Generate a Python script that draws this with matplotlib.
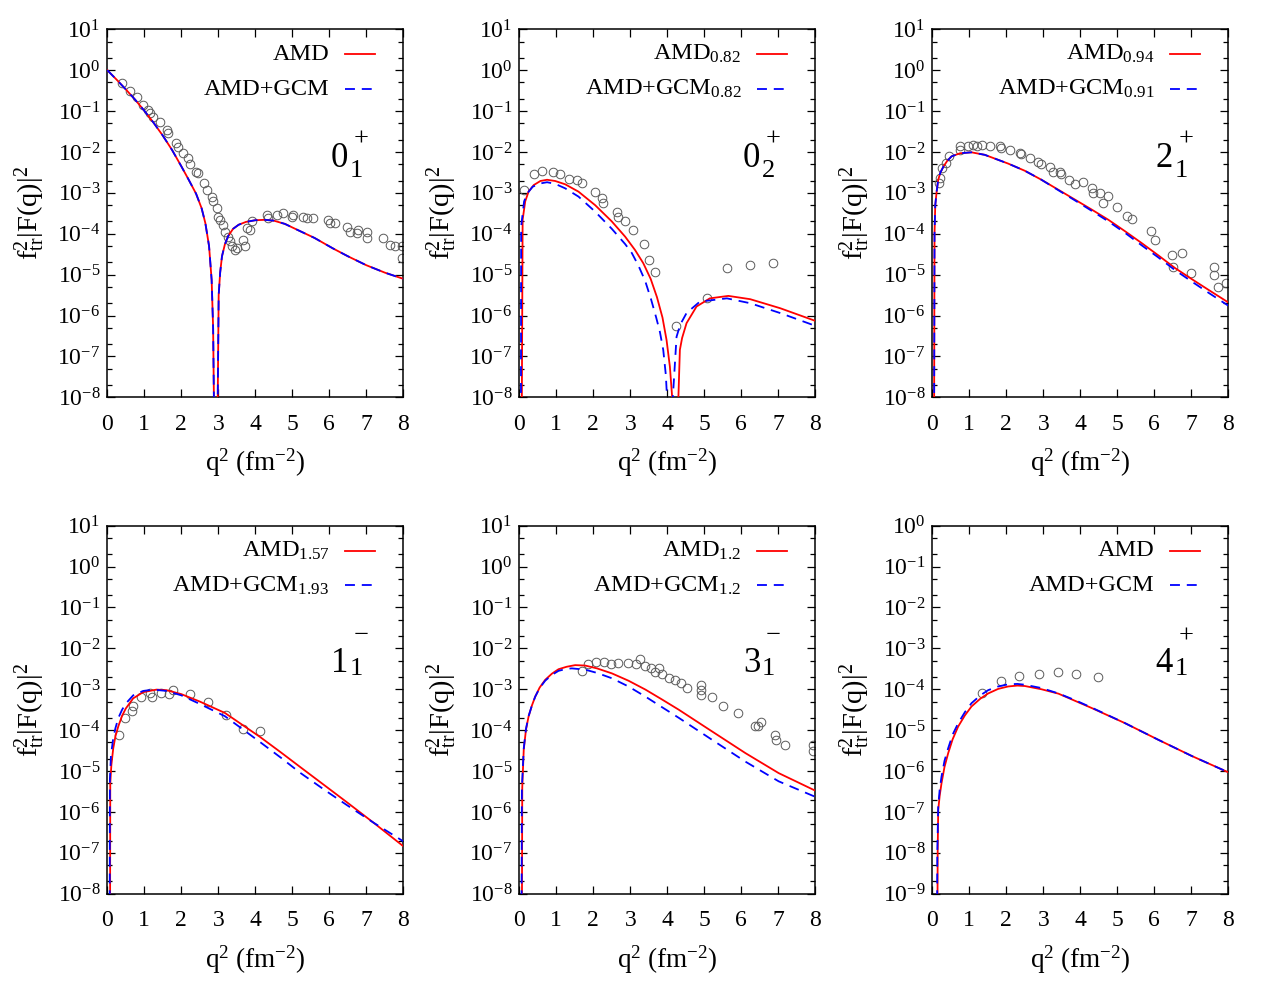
import matplotlib
matplotlib.use('Agg')
import matplotlib.pyplot as plt
from matplotlib.ticker import LogLocator, NullFormatter, LogFormatterSciNotation, FixedLocator

plt.rcParams['font.family'] = 'serif'
plt.rcParams['font.serif'] = ['Liberation Serif', 'DejaVu Serif']
plt.rcParams['mathtext.fontset'] = 'stix'

# ---------------- panel 1 : 0_1^+ ----------------
p1_q_amd = [0.0, 0.25, 0.5, 0.75, 1.0, 1.25, 1.5, 1.75, 2.0, 2.2, 2.4, 2.55, 2.65, 2.75, 2.82, 2.86,
            2.93, 2.98, 3.01, 3.05, 3.1, 3.18, 3.27, 3.4, 3.55, 3.75, 4.0, 4.25, 4.5, 4.8, 5.2, 5.6,
            6.1, 6.5, 7.0, 7.5, 8.0]
p1_amd = [1.0, 0.589, 0.339, 0.191, 0.102, 5.2e-2, 2.51e-2, 1.12e-2, 4.47e-3, 2.09e-3, 9.5e-4, 4.17e-4,
          1.82e-4, 5.0e-5, 7.4e-6, 5.0e-7, 1e-12, 3.16e-9, 3.16e-6, 1.12e-5, 2.82e-5, 5.6e-5, 8.9e-5,
          1.32e-4, 1.66e-4, 1.95e-4, 2.14e-4, 2.19e-4, 2.09e-4, 1.74e-4, 1.17e-4, 7.9e-5, 4.37e-5,
          2.82e-5, 1.70e-5, 1.12e-5, 7.9e-6]
p1_q_gcm = list(p1_q_amd)
p1_gcm = [1.0, 0.589, 0.339, 0.191, 0.102, 5.2e-2, 2.51e-2, 1.12e-2, 4.47e-3, 2.09e-3, 9.5e-4, 4.17e-4,
          1.82e-4, 5.0e-5, 7.4e-6, 5.0e-7, 1e-12, 3.16e-9, 3.16e-6, 1.12e-5, 2.82e-5, 5.6e-5, 8.9e-5,
          1.32e-4, 1.66e-4, 1.95e-4, 2.14e-4, 2.19e-4, 2.09e-4, 1.74e-4, 1.17e-4, 7.9e-5, 4.37e-5,
          2.82e-5, 1.70e-5, 1.12e-5, 7.9e-6]
p1_q_exp = [0.39, 0.61, 0.79, 0.97, 1.11, 1.15, 1.24, 1.42, 1.60, 1.65, 1.87, 1.92, 2.05, 2.19, 2.23,
            2.41, 2.46, 2.60, 2.69, 2.82, 2.87, 2.96, 3.00, 3.05, 3.14, 3.18, 3.27, 3.32, 3.36, 3.45,
            3.50, 3.68, 3.72, 3.77, 3.86, 3.90, 4.31, 4.35, 4.58, 4.76, 4.98, 5.03, 5.30, 5.39, 5.57,
            5.97, 6.02, 6.15, 6.47, 6.56, 6.78, 6.74, 7.01, 7.01, 7.46, 7.64, 7.78, 7.96, 7.96]
p1_exp = [0.479, 0.302, 0.219, 0.141, 0.107, 8.9e-2, 7.2e-2, 5.5e-2, 3.47e-2, 2.88e-2, 1.62e-2, 1.35e-2,
          9.3e-3, 7.1e-3, 5.2e-3, 3.31e-3, 3.02e-3, 1.70e-3, 1.17e-3, 8.1e-4, 6.2e-4, 4.17e-4, 2.63e-4,
          2.19e-4, 1.66e-4, 1.12e-4, 8.5e-5, 6.5e-5, 4.9e-5, 3.98e-5, 4.4e-5, 7.1e-5, 4.9e-5, 1.35e-4,
          1.23e-4, 2.0e-4, 2.88e-4, 2.40e-4, 2.88e-4, 3.16e-4, 2.63e-4, 2.88e-4, 2.63e-4, 2.40e-4,
          2.40e-4, 2.19e-4, 1.82e-4, 1.82e-4, 1.48e-4, 1.12e-4, 1.23e-4, 1.02e-4, 1.12e-4, 7.8e-5,
          7.8e-5, 5.4e-5, 4.9e-5, 4.9e-5, 2.51e-5]

# ---------------- panel 2 : 0_2^+ ----------------
p2_q_amd = [0.05, 0.09, 0.16, 0.25, 0.39, 0.57, 0.75, 0.97, 1.24, 1.60, 2.05, 2.50, 2.86, 3.13, 3.35,
            3.55, 3.72, 3.87, 3.98, 4.07, 4.14, 4.20, 4.24, 4.30, 4.34, 4.40, 4.52, 4.79, 5.15, 5.65,
            6.24, 7.05, 8.0]
p2_amd = [1e-12, 2.19e-4, 6.2e-4, 1.07e-3, 1.55e-3, 1.95e-3, 2.09e-3, 1.95e-3, 1.62e-3, 1.07e-3, 5.0e-4,
          2.0e-4, 8.5e-5, 3.98e-5, 1.91e-5, 7.9e-6, 2.82e-6, 8.9e-7, 2.51e-7, 5.6e-8, 7.9e-9, 1e-12,
          1e-12, 1.0e-8, 1.45e-7, 2.82e-7, 6.5e-7, 1.66e-6, 2.63e-6, 3.02e-6, 2.51e-6, 1.51e-6, 7.4e-7]
p2_q_gcm = [0.04, 0.05, 0.13, 0.22, 0.36, 0.57, 0.75, 0.97, 1.24, 1.60, 2.05, 2.50, 2.86, 3.04, 3.22,
            3.40, 3.56, 3.70, 3.80, 3.89, 3.96, 4.01, 4.05, 4.15, 4.25, 4.35, 4.52, 4.88, 5.61, 6.24,
            7.05, 8.0]
p2_gcm = [1e-12, 1.51e-4, 6.2e-4, 9.8e-4, 1.41e-3, 1.70e-3, 1.82e-3, 1.66e-3, 1.29e-3, 8.1e-4, 3.47e-4,
          1.32e-4, 5.6e-5, 3.39e-5, 1.66e-5, 7.1e-6, 2.51e-6, 8.9e-7, 3.98e-7, 1.45e-7, 3.55e-8, 5.0e-9,
          1e-12, 1.0e-8, 3.02e-7, 6.0e-7, 1.15e-6, 2.19e-6, 2.63e-6, 2.0e-6, 1.15e-6, 5.6e-7]
p2_q_exp = [0.14, 0.39, 0.60, 0.90, 1.09, 1.35, 1.56, 1.69, 2.04, 2.23, 2.25, 2.64, 2.67, 2.86, 3.06,
            3.36, 3.51, 3.68, 4.23, 5.08, 5.61, 6.24, 6.85]
p2_exp = [1.17e-3, 2.82e-3, 3.47e-3, 3.31e-3, 2.88e-3, 2.19e-3, 2.09e-3, 1.70e-3, 1.07e-3, 7.4e-4, 5.8e-4,
          3.47e-4, 2.51e-4, 2.09e-4, 1.23e-4, 5.5e-5, 2.29e-5, 1.17e-5, 5.6e-7, 2.63e-6, 1.45e-5,
          1.74e-5, 1.91e-5]

# ---------------- panel 3 : 2_1^+ ----------------
p3_q_amd = [0.04, 0.06, 0.08, 0.12, 0.16, 0.22, 0.30, 0.40, 0.52, 0.75, 1.06, 1.42, 2.05, 2.50, 2.95,
            3.40, 3.86, 4.31, 4.76, 5.21, 5.66, 6.11, 6.56, 7.01, 7.46, 8.0]
p3_amd = [1e-12, 1.0e-4, 5.0e-4, 1.12e-3, 2.09e-3, 3.16e-3, 4.37e-3, 6.0e-3, 7.8e-3, 9.3e-3, 9.8e-3,
          8.5e-3, 5.2e-3, 3.47e-3, 2.09e-3, 1.20e-3, 6.8e-4, 3.89e-4, 2.19e-4, 1.15e-4, 5.9e-5, 2.95e-5,
          1.45e-5, 7.8e-6, 4.27e-6, 2.09e-6]
p3_q_gcm = [0.04, 0.06, 0.08, 0.12, 0.16, 0.22, 0.30, 0.40, 0.52, 0.75, 1.06, 1.42, 2.05, 2.50, 2.95,
            3.40, 3.86, 4.31, 4.76, 5.21, 5.66, 6.11, 6.56, 7.01, 7.46, 8.0]
p3_gcm = [1e-12, 1.0e-4, 5.0e-4, 1.12e-3, 2.09e-3, 3.16e-3, 4.37e-3, 6.0e-3, 7.8e-3, 9.3e-3, 9.8e-3,
          8.5e-3, 5.2e-3, 3.47e-3, 2.09e-3, 1.17e-3, 6.5e-4, 3.63e-4, 2.0e-4, 1.05e-4, 5.2e-5, 2.63e-5,
          1.29e-5, 6.8e-6, 3.63e-6, 1.74e-6]
p3_q_exp = [0.18, 0.21, 0.27, 0.36, 0.45, 0.75, 0.75, 0.97, 1.11, 1.20, 1.33, 1.56, 1.83, 1.86, 2.10,
            2.37, 2.39, 2.64, 2.86, 2.94, 3.18, 3.27, 3.45, 3.48, 3.69, 3.87, 4.08, 4.31, 4.33, 4.53,
            4.60, 4.74, 4.98, 5.27, 5.41, 5.91, 6.02, 6.47, 6.51, 6.74, 6.99, 7.62, 7.62, 7.73, 7.95]
p3_exp = [1.70e-3, 2.29e-3, 3.98e-3, 5.5e-3, 7.8e-3, 1.41e-2, 1.12e-2, 1.41e-2, 1.48e-2, 1.41e-2, 1.48e-2,
          1.41e-2, 1.41e-2, 1.23e-2, 1.12e-2, 9.5e-3, 8.9e-3, 7.1e-3, 5.8e-3, 5.1e-3, 4.27e-3, 3.16e-3,
          3.31e-3, 2.88e-3, 2.09e-3, 1.66e-3, 1.82e-3, 1.35e-3, 1.02e-3, 9.8e-4, 5.8e-4, 8.5e-4, 4.47e-4,
          2.75e-4, 2.34e-4, 1.20e-4, 6.9e-5, 3.02e-5, 1.51e-5, 3.47e-5, 1.10e-5, 1.58e-5, 9.8e-6, 5.1e-6,
          6.2e-6]

# ---------------- panel 4 : 1_1^- ----------------
p4_q_amd = [0.07, 0.08, 0.11, 0.16, 0.22, 0.30, 0.40, 0.50, 0.70, 0.97, 1.33, 1.60, 2.0, 2.5, 3.18,
            4.13, 4.7, 5.21, 5.9, 6.47, 7.19, 8.0]
p4_amd = [1e-12, 5.0e-6, 1.41e-5, 3.55e-5, 7.1e-5, 1.26e-4, 2.24e-4, 3.39e-4, 6.0e-4, 8.5e-4, 9.8e-4,
          9.5e-4, 7.6e-4, 5.0e-4, 2.63e-4, 6.8e-5, 2.82e-5, 1.26e-5, 4.27e-6, 1.74e-6, 5.5e-7, 1.45e-7]
p4_q_gcm = [0.06, 0.07, 0.10, 0.16, 0.22, 0.30, 0.40, 0.50, 0.70, 0.97, 1.24, 1.60, 2.0, 2.5, 3.18,
            4.13, 4.7, 5.21, 5.9, 6.47, 7.19, 8.0]
p4_gcm = [1e-12, 6.3e-6, 2.51e-5, 6.3e-5, 1.12e-4, 2.0e-4, 3.16e-4, 4.47e-4, 7.1e-4, 9.1e-4, 9.8e-4,
          9.1e-4, 7.1e-4, 4.37e-4, 2.19e-4, 5.1e-5, 2.09e-5, 9.1e-6, 3.31e-6, 1.48e-6, 5.5e-7, 1.91e-7]
p4_q_exp = [0.32, 0.48, 0.68, 0.70, 0.90, 1.15, 1.20, 1.44, 1.68, 1.77, 2.23, 2.73, 3.21, 3.66, 4.13]
p4_exp = [7.8e-5, 1.95e-4, 2.88e-4, 3.8e-4, 6.6e-4, 8.3e-4, 6.6e-4, 7.9e-4, 7.6e-4, 9.8e-4, 7.6e-4,
          4.79e-4, 2.29e-4, 1.05e-4, 9.3e-5]

# ---------------- panel 5 : 3_1^- ----------------
p5_q_amd = [0.06, 0.08, 0.12, 0.18, 0.25, 0.34, 0.43, 0.55, 0.70, 0.88, 1.06, 1.28, 1.51, 1.78, 2.10,
            2.50, 2.95, 3.41, 3.86, 4.31, 5.21, 6.11, 7.01, 8.0]
p5_amd = [1e-12, 4.0e-6, 3.31e-5, 1.02e-4, 2.14e-4, 3.98e-4, 6.6e-4, 1.10e-3, 1.70e-3, 2.40e-3, 3.09e-3,
          3.55e-3, 3.89e-3, 3.80e-3, 3.24e-3, 2.45e-3, 1.62e-3, 9.8e-4, 5.6e-4, 3.16e-4, 9.3e-5, 2.75e-5,
          8.9e-6, 3.31e-6]
p5_q_gcm = [0.05, 0.07, 0.12, 0.18, 0.25, 0.34, 0.43, 0.55, 0.70, 0.88, 1.06, 1.28, 1.42, 1.78, 2.10,
            2.50, 2.95, 3.41, 3.86, 4.31, 5.21, 6.11, 7.01, 8.0]
p5_gcm = [1e-12, 4.0e-6, 3.55e-5, 1.07e-4, 2.19e-4, 3.98e-4, 6.6e-4, 1.07e-3, 1.62e-3, 2.24e-3, 2.82e-3,
          3.16e-3, 3.24e-3, 3.02e-3, 2.51e-3, 1.86e-3, 1.17e-3, 6.6e-4, 3.63e-4, 2.0e-4, 5.8e-5, 1.70e-5,
          5.6e-6, 2.34e-6]
p5_q_exp = [1.69, 1.86, 2.07, 2.28, 2.48, 2.67, 2.94, 3.15, 3.27, 3.39, 3.57, 3.68, 3.77, 3.87, 4.04,
            4.22, 4.37, 4.53, 4.91, 4.91, 4.91, 5.21, 5.50, 5.91, 6.36, 6.45, 6.53, 6.92, 6.95, 7.19,
            7.95, 7.95]
p5_exp = [2.82e-3, 4.07e-3, 4.68e-3, 4.68e-3, 4.17e-3, 4.37e-3, 4.47e-3, 4.07e-3, 5.4e-3, 3.63e-3, 3.24e-3,
          2.69e-3, 3.24e-3, 2.34e-3, 1.86e-3, 1.70e-3, 1.45e-3, 1.07e-3, 1.29e-3, 9.8e-4, 7.2e-4, 6.3e-4,
          3.8e-4, 2.69e-4, 1.23e-4, 1.29e-4, 1.58e-4, 7.8e-5, 5.8e-5, 4.37e-5, 4.37e-5, 3.02e-5]

# ---------------- panel 6 : 4_1^+ ----------------
p6_q_amd = [0.13, 0.145, 0.16, 0.20, 0.25, 0.33, 0.43, 0.55, 0.70, 0.88, 1.06, 1.30, 1.51, 1.78, 2.05,
            2.30, 2.50, 2.95, 3.41, 3.86, 4.31, 5.21, 6.11, 7.01, 8.0]
p6_amd = [1e-12, 1.0e-8, 1.12e-7, 2.51e-7, 5.1e-7, 1.26e-6, 2.75e-6, 6.0e-6, 1.23e-5, 2.29e-5, 3.8e-5,
          5.9e-5, 7.9e-5, 1.02e-4, 1.17e-4, 1.23e-4, 1.20e-4, 1.0e-4, 7.8e-5, 5.2e-5, 3.47e-5, 1.48e-5,
          5.8e-6, 2.34e-6, 9.3e-7]
p6_q_gcm = [0.12, 0.135, 0.16, 0.20, 0.25, 0.33, 0.43, 0.55, 0.70, 0.88, 1.06, 1.30, 1.51, 1.78, 2.05,
            2.30, 2.50, 2.95, 3.41, 3.86, 4.31, 5.21, 6.11, 7.01, 8.0]
p6_gcm = [1e-12, 1.0e-8, 1.38e-7, 3.55e-7, 7.4e-7, 1.78e-6, 3.63e-6, 7.8e-6, 1.48e-5, 2.75e-5, 4.57e-5,
          7.1e-5, 9.5e-5, 1.17e-4, 1.32e-4, 1.35e-4, 1.29e-4, 1.07e-4, 7.9e-5, 5.4e-5, 3.55e-5, 1.48e-5,
          5.8e-6, 2.34e-6, 9.3e-7]
p6_q_exp = [1.35, 1.86, 2.35, 2.88, 3.41, 3.89, 4.47]
p6_exp = [8.3e-5, 1.55e-4, 2.14e-4, 2.40e-4, 2.57e-4, 2.40e-4, 1.95e-4]

# ---------------- labels ----------------
state_main = ['0', '0', '2', '1', '3', '4']
state_sup = ['+', '+', '+', '\u2212', '\u2212', '+']
state_sub = ['1', '2', '1', '1', '1', '1']
amd_labels = ['AMD', r'AMD$_{\mathdefault{0.82}}$', r'AMD$_{\mathdefault{0.94}}$',
              r'AMD$_{\mathdefault{1.57}}$', r'AMD$_{\mathdefault{1.2}}$', 'AMD']
gcm_labels = ['AMD+GCM', r'AMD+GCM$_{\mathdefault{0.82}}$', r'AMD+GCM$_{\mathdefault{0.91}}$',
              r'AMD+GCM$_{\mathdefault{1.93}}$', r'AMD+GCM$_{\mathdefault{1.2}}$', 'AMD+GCM']
ylims = [(1e-8, 1e1)] * 5 + [(1e-9, 1e0)]
x_ticks = [0, 1, 2, 3, 4, 5, 6, 7, 8]

panels = [
    (p1_q_amd, p1_amd, p1_q_gcm, p1_gcm, p1_q_exp, p1_exp),
    (p2_q_amd, p2_amd, p2_q_gcm, p2_gcm, p2_q_exp, p2_exp),
    (p3_q_amd, p3_amd, p3_q_gcm, p3_gcm, p3_q_exp, p3_exp),
    (p4_q_amd, p4_amd, p4_q_gcm, p4_gcm, p4_q_exp, p4_exp),
    (p5_q_amd, p5_amd, p5_q_gcm, p5_gcm, p5_q_exp, p5_exp),
    (p6_q_amd, p6_amd, p6_q_gcm, p6_gcm, p6_q_exp, p6_exp),
]

RED = '#ff0000'
BLUE = '#0000ff'
GRAY = '#5a5a5a'
FIG_W, FIG_H = 1275, 1000
lefts = [107.3, 519.3, 932.3]
tops = [29.3, 525.7]
AW, AH = 296.0, 368.0
# state-label layout per row: (main baseline, sub baseline, sup centre)
label_y = [(0.626, 0.599, 0.701), (0.603, 0.594, 0.700)]

fig = plt.figure(figsize=(FIG_W / 100, FIG_H / 100), dpi=100)

for i, (qa, ya, qg, yg, qe, ye) in enumerate(panels):
    r, c = divmod(i, 3)
    ax = fig.add_axes([lefts[c] / FIG_W, 1 - (tops[r] + AH) / FIG_H, AW / FIG_W, AH / FIG_H])
    ax.set_yscale('log')
    ax.plot(qe, ye, linestyle='none', marker='o', ms=6.2, mfc='none', mec=GRAY, mew=0.7, zorder=2)
    ax.plot(qa, ya, color=RED, lw=1.3, zorder=3)
    ax.plot(qg, yg, color=BLUE, lw=1.3, dashes=(5.5, 3.8), zorder=4)
    ax.set_xlim(0, 8)
    ax.set_ylim(*ylims[i])

    ax.xaxis.set_major_locator(FixedLocator(x_ticks))
    ax.yaxis.set_major_locator(LogLocator(base=10, numticks=20))
    ax.yaxis.set_minor_locator(LogLocator(base=10, subs=(2.0, 5.0), numticks=20))
    ax.yaxis.set_minor_formatter(NullFormatter())
    ax.yaxis.set_major_formatter(LogFormatterSciNotation())
    ax.tick_params(which='both', direction='in', top=True, right=True, labelsize=17, width=0.9)
    ax.tick_params(which='major', length=6)
    ax.tick_params(which='minor', length=3.5)
    ax.tick_params(axis='x', pad=12)
    ax.tick_params(axis='y', pad=5)
    for s in ax.spines.values():
        s.set_linewidth(1.1)

    ax.set_ylabel(r'$\mathdefault{f^{2}_{tr}|F(q)|^{2}}$', fontsize=20.5)
    ax.yaxis.set_label_coords(-0.205, 0.5)
    ax.set_xlabel(r'$\mathdefault{q^{2}\ (fm^{-2})}$', fontsize=19.5)
    ax.xaxis.set_label_coords(0.5, -0.135)

    # legend (text right-aligned, sample line to its right)
    ax.text(0.75, 0.9166, amd_labels[i], transform=ax.transAxes, ha='right', va='baseline', fontsize=17.5)
    ax.text(0.75, 0.8215, gcm_labels[i], transform=ax.transAxes, ha='right', va='baseline', fontsize=17.5)
    ax.plot([0.803, 0.904], [0.932, 0.932], transform=ax.transAxes, color=RED, lw=1.3)
    ax.plot([0.803, 0.904], [0.838, 0.838], transform=ax.transAxes, color=BLUE, lw=1.3, dashes=(5.5, 3.8))

    # state label  J^pi_n
    yb_main, yb_sub, y_sup = label_y[r]
    ax.text(0.755, yb_main, state_main[i], transform=ax.transAxes, ha='left', va='baseline', fontsize=25)
    ax.text(0.820, yb_sub, state_sub[i], transform=ax.transAxes, ha='left', va='baseline', fontsize=19)
    ax.text(0.858, y_sup, state_sup[i], transform=ax.transAxes, ha='center', va='center', fontsize=19)

fig.savefig('out.png', dpi=100)
